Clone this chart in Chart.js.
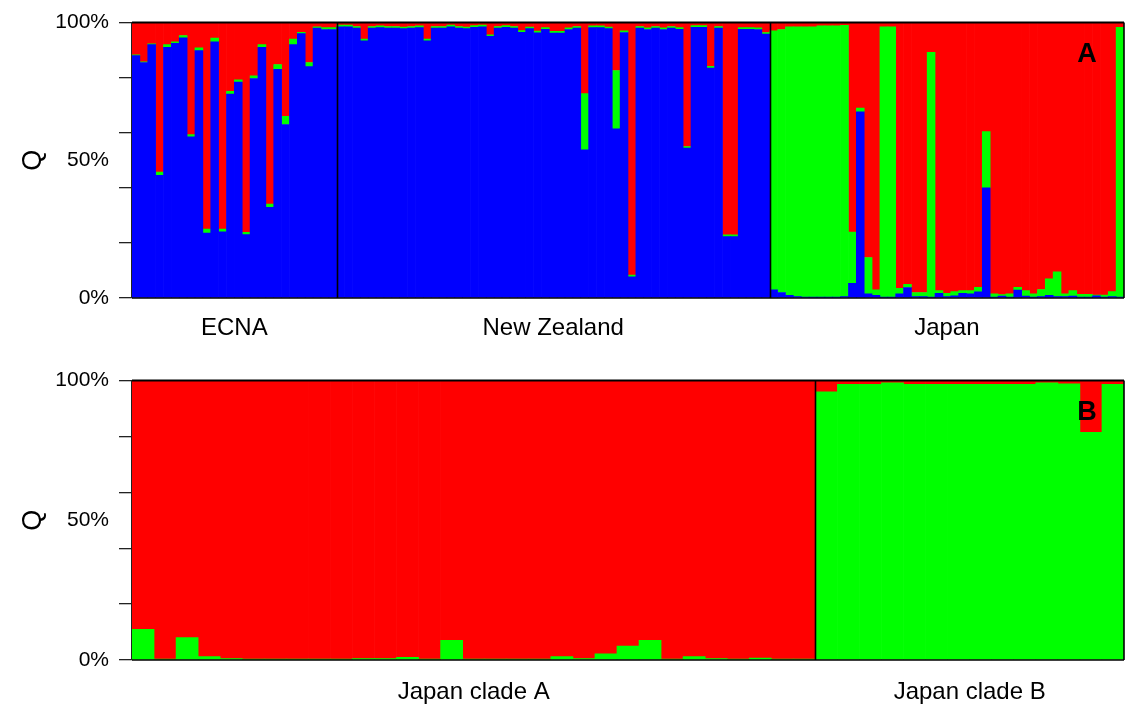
<!DOCTYPE html>
<html><head><meta charset="utf-8">
<script src="https://cdn.jsdelivr.net/npm/chart.js@4.4.1/dist/chart.umd.min.js"></script>
<style>
html,body{margin:0;padding:0;background:#fff;}
#wrap{position:relative;width:1126px;height:704px;overflow:hidden;}
.c{position:absolute;left:0;width:1126px;}
</style></head><body>
<div id="wrap">
<div class="c" style="top:0;height:348px"><canvas id="chartA"></canvas></div>
<div class="c" style="top:358px;height:346px"><canvas id="chartB"></canvas></div>
</div>
<script>
// ---------- Panel A data (Q, %) ----------
const groupsA = ['ECNA', 'New Zealand', 'Japan'];
const ecnaBlue  = [88, 85.5, 92, 44.5, 91, 92.5, 94.5, 58.5, 89.8, 23.6, 93, 24, 74, 78.4, 23, 79.7, 91, 32.9, 83, 63, 92, 96, 84, 98, 97.5, 97.5];
const ecnaGreen = [0.3, 0.3, 0.3, 1.2, 1, 0.5, 0.8, 0.8, 1, 1.4, 1.4, 1, 1, 0.8, 0.8, 1, 1, 1.2, 1.8, 3, 2, 0.5, 1.5, 0.5, 0.7, 0.7];
const ecnaRed   = [11.7, 14.2, 7.7, 54.3, 8, 7, 4.7, 40.7, 9.2, 75, 5.6, 75, 25, 20.8, 76.2, 19.3, 8, 65.9, 15.2, 34, 6, 3.5, 14.5, 1.5, 1.8, 1.8];

const nzBlue  = [98.5, 98.5, 98, 93.4, 98, 98.2, 98, 98, 97.8, 98, 98.2, 93.4, 98, 98, 98.5, 98, 97.8, 98.3, 98.5, 95, 98, 98.3, 98, 96.5, 97.8, 96.3, 97.6, 96.2, 96.2, 97.5, 98, 53.8, 98.2, 98.2, 97.8, 61.4, 96.4, 7.7, 98, 97.5, 98, 97.5, 98, 97.6, 54.4, 98.3, 98.3, 83.5, 98, 22.3, 22.3, 97.6, 97.6, 97.5, 95.8];
const nzGreen = [0.6, 0.6, 0.6, 0.6, 0.6, 0.6, 0.6, 0.6, 0.6, 0.6, 0.6, 0.6, 0.6, 0.6, 0.6, 0.6, 0.6, 0.6, 0.6, 0.6, 0.6, 0.6, 0.6, 0.6, 0.6, 0.6, 0.6, 0.6, 0.6, 0.6, 0.6, 20.4, 0.6, 0.6, 0.6, 21.2, 0.6, 0.6, 0.6, 0.6, 0.6, 0.6, 0.6, 0.6, 0.6, 0.6, 0.6, 0.6, 0.6, 0.6, 0.6, 0.6, 0.6, 0.6, 0.6];
const nzRed   = [0.9, 0.9, 1.4, 6, 1.4, 1.2, 1.4, 1.4, 1.6, 1.4, 1.2, 6, 1.4, 1.4, 0.9, 1.4, 1.6, 1.1, 0.9, 4.4, 1.4, 1.1, 1.4, 2.9, 1.6, 3.1, 1.8, 3.2, 3.2, 1.9, 1.4, 25.8, 1.2, 1.2, 1.6, 17.4, 3, 91.7, 1.4, 1.9, 1.4, 1.9, 1.4, 1.8, 45, 1.1, 1.1, 15.9, 1.4, 77.1, 77.1, 1.8, 1.8, 1.9, 3.6];

const jpBlue  = [3, 2, 1, 0.5, 0.3, 0.3, 0.3, 0.3, 0.3, 0.5, 5.3, 67.6, 1.5, 1, 0.3, 0.3, 1.5, 3.8, 0.5, 0.5, 0.3, 1.7, 0.5, 0.8, 1.7, 1.5, 2.2, 40, 0.3, 0.7, 0.3, 2.9, 0.7, 0.3, 0.5, 1, 0.5, 0.5, 0.7, 0.3, 0.3, 0.8, 0.3, 0.5, 0.3];
const jpGreen = [94, 95.5, 97.5, 98, 98.2, 98.2, 98.5, 98.5, 98.5, 98.5, 18.6, 1.4, 13.2, 2, 98.2, 98.2, 2, 1.2, 1.5, 1.5, 88.9, 1, 1.2, 1.5, 1, 1.2, 1.7, 20.4, 1.2, 0.5, 1.2, 1, 2, 1.2, 2.6, 6, 9, 1, 2, 1, 1, 0.3, 0.8, 1.8, 98];
const jpRed   = [3, 2.5, 1.5, 1.5, 1.5, 1.5, 1.2, 1.2, 1.2, 1, 76.1, 31, 85.3, 97, 1.5, 1.5, 96.5, 95, 98, 98, 10.8, 97.3, 98.3, 97.7, 97.3, 97.3, 96.1, 39.6, 98.5, 98.8, 98.5, 96.1, 97.3, 98.5, 96.9, 93, 90.5, 98.5, 97.3, 98.7, 98.7, 98.9, 98.9, 97.7, 1.7];

// ---------- Panel B data (Q, %) ----------
const groupsB = ['Japan clade A', 'Japan clade B'];
const cladeAGreen = [11, 0.3, 8, 1.2, 0.5, 0.3, 0.3, 0.3, 0.3, 0.3, 0.5, 0.5, 1, 0.3, 7, 0.3, 0.3, 0.3, 0.3, 1.2, 0.5, 2.2, 5, 7, 0.3, 1.2, 0.5, 0.3, 0.7, 0.3, 0.3];
const cladeARed   = [89, 99.7, 92, 98.8, 99.5, 99.7, 99.7, 99.7, 99.7, 99.7, 99.5, 99.5, 99, 99.7, 93, 99.7, 99.7, 99.7, 99.7, 98.8, 99.5, 97.8, 95, 93, 99.7, 98.8, 99.5, 99.7, 99.3, 99.7, 99.7];
const cladeBGreen = [96, 98.7, 98.7, 99.2, 98.7, 98.7, 98.7, 98.7, 98.7, 98.7, 99.2, 98.8, 81.5, 98.7];
const cladeBRed   = [4, 1.3, 1.3, 0.8, 1.3, 1.3, 1.3, 1.3, 1.3, 1.3, 0.8, 1.2, 18.5, 1.3];

// ---------- axis ticks ----------
const yTickValues = [0, 20, 40, 50, 60, 80, 100];
const yTickLabels = ['0%', '', '', '50%', '', '', '100%'];

const FONT = "'Liberation Sans', Arial, Helvetica, sans-serif";
const COL = { blue: '#0000ff', green: '#00ff00', red: '#ff0000' };

const framePlugin = {
  id: 'frame',
  afterDatasetsDraw(chart, args, opts) {
    const { ctx, chartArea: a, scales } = chart;
    const x2 = scales.x2;
    ctx.save();
    ctx.strokeStyle = '#000';
    ctx.lineWidth = 1.6;
    opts.bounds.forEach(v => {
      const px = Math.round(x2.getPixelForValue(v)) + 0.5;
      ctx.beginPath(); ctx.moveTo(px, a.top); ctx.lineTo(px, a.bottom); ctx.stroke();
    });
    ctx.lineWidth = 2;
    ctx.beginPath(); ctx.moveTo(a.left, a.top); ctx.lineTo(a.right, a.top); ctx.stroke();
    ctx.lineWidth = 1.6;
    ctx.beginPath(); ctx.moveTo(a.left, a.bottom); ctx.lineTo(a.right, a.bottom); ctx.stroke();
    ctx.beginPath(); ctx.moveTo(a.right, a.top); ctx.lineTo(a.right, a.bottom); ctx.stroke();
    ctx.fillStyle = '#000';
    ctx.font = 'bold 27px ' + FONT;
    ctx.textAlign = 'center';
    ctx.textBaseline = 'middle';
    ctx.fillText(opts.letter, a.right - 37, a.top + 32);
    ctx.restore();
  }
};

function makeChart(id, datasets, groupSizes, groupNames, letter, axisH, labelPad) {
  const n = groupSizes.reduce((s, v) => s + v, 0);
  const bounds = [], centers = [];
  let acc = 0;
  groupSizes.forEach((g, i) => {
    centers.push(acc + g / 2);
    acc += g;
    if (i < groupSizes.length - 1) bounds.push(acc);
  });
  const labels = Array.from({ length: n }, (_, i) => String(i + 1));
  return new Chart(document.getElementById(id), {
    type: 'bar',
    data: {
      labels,
      datasets: datasets.map(d => ({
        label: d.label, data: d.data, backgroundColor: d.color,
        borderWidth: 0, barPercentage: 1, categoryPercentage: 1
      }))
    },
    options: {
      responsive: true, maintainAspectRatio: false, animation: false,
      layout: { padding: { top: 20, right: 2, left: 0, bottom: 0 } },
      plugins: { legend: { display: false }, tooltip: { enabled: false }, frame: { bounds, letter } },
      scales: {
        x: { type: 'category', display: false, stacked: true, offset: true },
        x2: {
          type: 'linear', position: 'bottom', min: 0, max: n, offset: false, bounds: 'data',
          grid: { display: false, drawTicks: false, offset: false }, border: { display: false },
          afterBuildTicks: s => { s.ticks = centers.map(v => ({ value: v })); },
          afterFit: s => { s.height = axisH; },
          ticks: {
            autoSkip: false, maxRotation: 0, padding: labelPad, color: '#000',
            font: { family: FONT, size: 24 },
            callback: (v, i) => groupNames[i]
          }
        },
        y: {
          stacked: true, min: 0, max: 100,
          afterBuildTicks: s => { s.ticks = yTickValues.map(v => ({ value: v })); },
          afterFit: s => { s.width = 132; },
          grid: {
            drawOnChartArea: false, tickLength: 13, lineWidth: 1.3,
            color: c => (c.tick && c.tick.value === 50) ? 'rgba(0,0,0,0)' : '#222',
            tickColor: c => (c.tick && c.tick.value === 50) ? 'rgba(0,0,0,0)' : '#222'
          },
          border: { display: true, color: '#222', width: 1.6 },
          ticks: {
            padding: 10, color: '#000', font: { family: FONT, size: 21 },
            callback: (v, i) => yTickLabels[yTickValues.indexOf(v)]
          },
          title: {
            display: true, text: 'Q', color: '#000',
            font: { family: FONT, size: 27 }, padding: { top: 17, bottom: 0 }
          }
        }
      }
    },
    plugins: [framePlugin]
  });
}

makeChart('chartA', [
  { label: 'Cluster blue', data: [...ecnaBlue, ...nzBlue, ...jpBlue], color: COL.blue },
  { label: 'Cluster green', data: [...ecnaGreen, ...nzGreen, ...jpGreen], color: COL.green },
  { label: 'Cluster red', data: [...ecnaRed, ...nzRed, ...jpRed], color: COL.red }
], [ecnaBlue.length, nzBlue.length, jpBlue.length], groupsA, 'A', 50, 16);

makeChart('chartB', [
  { label: 'Cluster green', data: [...cladeAGreen, ...cladeBGreen], color: COL.green },
  { label: 'Cluster red', data: [...cladeARed, ...cladeBRed], color: COL.red }
], [cladeAGreen.length, cladeBGreen.length], groupsB, 'B', 44, 18);
</script>
</body></html>
